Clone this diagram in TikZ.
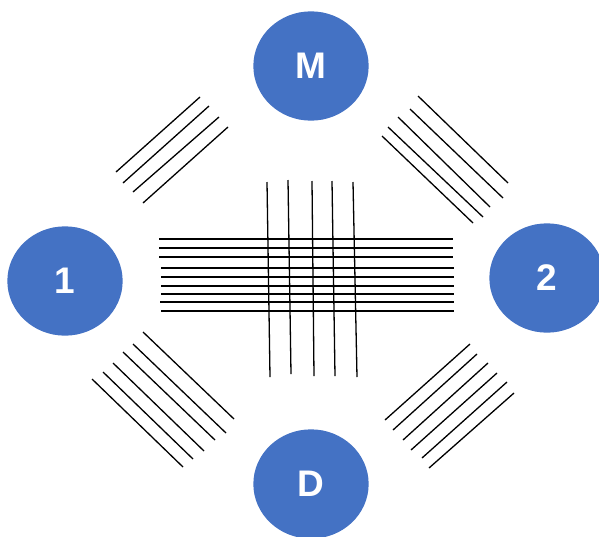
\documentclass[tikz,border=0pt]{standalone}
\usepackage{fontspec}
\setmainfont{Liberation Sans}
\usepackage{tikz}
\usetikzlibrary{shapes.geometric}
\definecolor{BlueNC}{HTML}{4472C4}
\tikzstyle{mynodestyle} = [ellipse, minimum width=114pt, minimum height=108pt, inner sep=0pt, text=white, font=\fontsize{37}{37}\selectfont\bfseries]
\tikzstyle{bn} = [mynodestyle, draw=BlueNC, fill=BlueNC]
\tikzset{every picture/.style={line width=1.3pt}, x=1pt, y=-1pt}

\begin{document}
\begin{tikzpicture}
\useasboundingbox (0,0) rectangle (599,536);
\node[bn] (m) at (311, 66) {M};
\node[bn] (one) at (65, 281) {1};
\node[bn] (two) at (547, 278) {2};
\node[bn] (d) at (311, 484) {D};
% upper left
\draw (200, 97) -- (116, 172);
\draw (209, 106) -- (123, 183);
\draw (219, 117) -- (133, 192);
\draw (228, 127) -- (143, 203);
% upper right
\draw (418, 96) -- (508, 183);
\draw (410, 109) -- (503, 198);
\draw (398, 117) -- (490, 207);
\draw (388, 127) -- (483, 217);
\draw (382, 136) -- (473, 223);
% lower left
\draw (143, 332) -- (234, 419);
\draw (133, 344) -- (226, 433);
\draw (123, 352) -- (215, 440);
\draw (113, 363) -- (204, 451);
\draw (103, 372) -- (193, 459);
\draw (92, 379) -- (183, 467);
% lower right
\draw (470, 344) -- (385, 420);
\draw (477, 354) -- (393, 430);
\draw (488, 363) -- (403, 440);
\draw (497, 373) -- (411, 450);
\draw (507, 382) -- (422, 458);
\draw (514, 393) -- (429, 468);
% middle
\draw (159, 239) -- (453, 239);
\draw (159, 248) -- (453, 248);
\draw (159, 257) -- (453, 257);
\draw (161, 268) -- (454, 268);
\draw (161, 277) -- (454, 277);
\draw (161, 286) -- (454, 286);
\draw (161, 294) -- (454, 294);
\draw (160, 302) -- (454, 302);
\draw (161, 311) -- (454, 311);
\draw (267, 182) -- (270, 377);
\draw (288, 180) -- (291, 374);
\draw (312, 181) -- (314, 376);
\draw (332, 181) -- (335, 376);
\draw (353, 182) -- (357, 377);
\end{tikzpicture}
\end{document}
